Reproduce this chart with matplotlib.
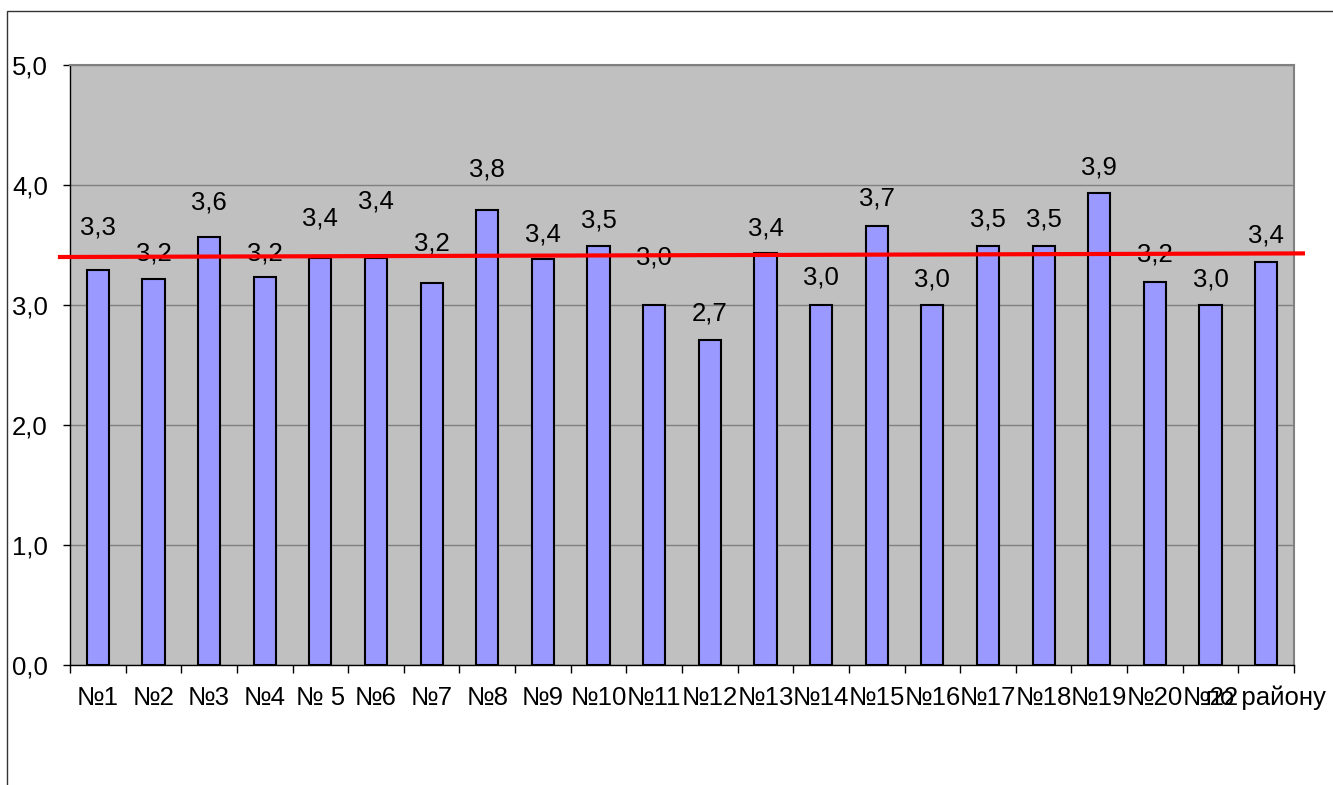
import numpy as np
import matplotlib
matplotlib.use('Agg')
import matplotlib.pyplot as plt
from matplotlib.patches import Rectangle

plt.rcParams['font.family'] = ['Liberation Sans', 'DejaVu Sans']

# данные
categories = ['№1', '№2', '№3', '№4', '№ 5', '№6', '№7', '№8', '№9', '№10', '№11',
              '№12', '№13', '№14', '№15', '№16', '№17', '№18', '№19', '№20', '№22', 'по району']
values = [3.29, 3.22, 3.57, 3.23, 3.39, 3.39, 3.18, 3.79, 3.38, 3.49, 3.0,
          2.71, 3.43, 3.0, 3.66, 3.0, 3.49, 3.49, 3.93, 3.19, 3.0, 3.36]
avg_line = [3.40, 3.43]  # красная линия (слева, справа)
yticks = [0, 1, 2, 3, 4, 5]

# сдвиг подписей над столбцами, пиксели
label_off = [43, 25, 34, 24, 40, 57, 40, 41, 25, 26, 48, 26, 25, 27, 27, 26, 27, 27, 26, 28, 26, 26]
fs = 18.5

fig = plt.figure(figsize=(13.33, 7.85), dpi=100)
fig.patches.append(Rectangle((7/1333, -0.05), 1.2, 1 - 11/785 + 0.05, transform=fig.transFigure,
                             fill=False, edgecolor='#333333', linewidth=1))
ax = fig.add_axes([70/1333, 1 - 665/785, 1224/1333, 600/785])
ax.set_facecolor('#C0C0C0')

x = np.arange(len(categories))
ax.bar(x, values, width=0.4, color='#9999FF', edgecolor='black', linewidth=1.5, zorder=3)

for i, v in enumerate(values):
    ax.annotate(f'{v:.1f}'.replace('.', ','), (i, v), xytext=(0, label_off[i]),
                textcoords='offset pixels', ha='center', va='center', fontsize=fs, zorder=5)

ax.plot([-0.68, 21.66], avg_line, color='#FF0000', linewidth=3, clip_on=False, zorder=6)

ax.set_xlim(-0.5, len(categories) - 0.5)
ax.set_ylim(0, 5)
ax.set_yticks(yticks)
ax.set_yticklabels([f'{t:.1f}'.replace('.', ',') for t in yticks], fontsize=fs)
ax.yaxis.grid(True, color='#808080', linewidth=1)
ax.set_axisbelow(True)

ax.set_xticks(x)
ax.set_xticklabels(categories, fontsize=fs)
ax.set_xticks(np.arange(-0.5, len(categories)), minor=True)
ax.tick_params(axis='x', which='major', length=0, pad=15)
ax.tick_params(axis='x', which='minor', length=6, width=1, direction='out')
ax.tick_params(axis='y', length=5, width=1, pad=11)

for s in ['top', 'right']:
    ax.spines[s].set_color('#808080')
    ax.spines[s].set_linewidth(1.5)
for s in ['left', 'bottom']:
    ax.spines[s].set_color('black')
    ax.spines[s].set_linewidth(1)

fig.savefig('out.png', dpi=100)
